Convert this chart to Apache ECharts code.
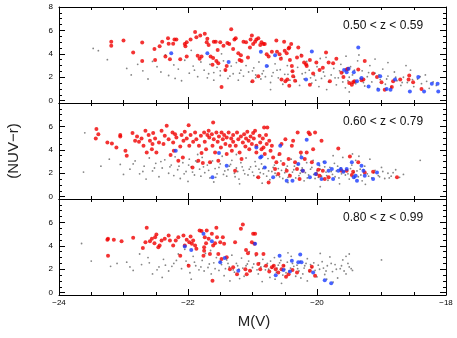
<!DOCTYPE html>
<html>
<head>
<meta charset="utf-8">
<script src="https://cdn.jsdelivr.net/npm/echarts@6.0.0/dist/echarts.min.js"></script>
<style>
html, body { margin: 0; padding: 0; background: #fff; }
#chart { width: 457px; height: 338px; }
</style>
</head>
<body>
<div id="chart"></div>
<script>
// axis ranges / ticks
const X_MIN = -24, X_MAX = -18;
const Y_MIN = -0.2, Y_MAX = 8;
const yMajor = [0, 2, 4, 6, 8];
const yMinor = [0.5, 1, 1.5, 2.5, 3, 3.5, 4.5, 5, 5.5, 6.5, 7, 7.5];
const zLabels = ['0.50 < z < 0.59', '0.60 < z < 0.79', '0.80 < z < 0.99'];

// panel 1 : 0.50 < z < 0.59
const red1 = [[-23.19,5.04],[-23.19,4.70],[-23.0,5.13],[-22.85,4.12],[-22.71,4.96],[-22.71,3.39],[-22.52,4.41],[-22.51,3.48],[-22.44,4.64],[-22.40,5.04],[-22.35,3.77],[-22.31,5.33],[-22.30,4.87],[-22.28,3.54],[-22.23,4.87],[-22.21,5.22],[-22.18,5.22],[-22.12,3.54],[-22.05,4.84],[-22.04,4.64],[-22.02,4.99],[-21.96,5.22],[-22.02,3.77],[-21.89,5.86],[-21.87,5.42],[-21.81,5.57],[-21.85,3.83],[-21.82,3.59],[-21.79,3.77],[-21.74,5.71],[-21.71,4.99],[-21.70,5.28],[-21.68,4.75],[-21.65,3.77],[-21.60,5.04],[-21.57,5.04],[-21.62,3.07],[-21.56,3.39],[-21.54,4.32],[-21.53,3.19],[-21.61,3.65],[-21.50,4.99],[-21.48,1.16],[-21.45,4.70],[-21.42,2.61],[-21.40,2.96],[-21.39,4.93],[-21.36,4.84],[-21.33,6.09],[-21.28,5.22],[-21.26,5.33],[-21.30,4.41],[-21.22,4.06],[-21.20,3.48],[-21.18,3.88],[-21.17,3.39],[-21.14,5.04],[-21.10,4.99],[-21.07,3.68],[-21.04,4.55],[-21.03,5.22],[-21.01,5.57],[-20.99,4.84],[-20.96,5.04],[-20.94,5.22],[-20.91,5.33],[-20.88,4.75],[-20.86,4.99],[-20.83,4.84],[-20.81,4.84],[-20.91,2.09],[-21.00,1.65],[-20.78,3.97],[-20.75,3.77],[-20.70,4.17],[-20.63,5.13],[-20.62,4.17],[-20.58,3.97],[-20.56,3.59],[-20.55,1.80],[-20.51,5.04],[-20.50,4.26],[-20.47,4.06],[-20.44,4.46],[-20.43,4.55],[-20.40,4.84],[-20.42,3.48],[-20.39,2.96],[-20.38,2.52],[-20.49,1.65],[-20.46,1.80],[-20.43,1.28],[-20.37,2.09],[-20.34,1.71],[-20.31,3.68],[-20.29,4.55],[-20.24,3.83],[-20.20,3.25],[-20.17,3.10],[-20.16,2.96],[-20.11,3.48],[-20.11,1.36],[-20.06,2.32],[-20.01,3.25],[-19.96,2.61],[-19.91,2.81],[-19.86,4.12],[-19.82,3.25],[-19.80,1.65],[-19.75,3.19],[-19.70,3.59],[-19.62,2.38],[-19.59,2.03],[-19.54,2.67],[-19.52,2.72],[-19.50,1.51],[-19.46,1.36],[-19.44,1.57],[-19.42,1.65],[-19.36,2.67],[-19.31,1.74],[-19.28,1.80],[-19.26,3.39],[-19.13,2.32],[-19.07,2.03],[-19.00,1.57],[-18.95,0.93],[-18.84,1.16],[-18.82,1.65],[-18.57,2.14],[-18.58,1.80],[-18.51,1.57],[-18.38,0.99],[-18.71,1.80]];
const blue1 = [[-22.26,4.06],[-21.70,4.06],[-21.37,3.30],[-20.87,4.17],[-20.78,2.96],[-20.65,3.88],[-20.17,1.80],[-20.08,4.20],[-19.58,2.61],[-19.54,2.43],[-19.51,2.72],[-19.43,2.43],[-19.36,4.55],[-19.38,1.65],[-19.31,1.94],[-19.20,1.22],[-19.05,0.93],[-18.92,0.99],[-18.86,0.93],[-18.79,1.80],[-18.56,0.78],[-18.43,2.03],[-18.34,0.78],[-18.22,1.45],[-18.13,1.45],[-18.12,0.78],[-19.02,2.09]];
const dots1 = [[-23.47,4.46],[-23.39,4.27],[-23.25,3.5],[-22.95,2.75],[-22.88,2.2],[-22.78,3.1],[-22.7,2.55],[-22.62,1.85],[-22.55,3.35],[-22.48,2.9],[-22.42,2.45],[-22.35,3.9],[-22.3,2.15],[-22.22,3.05],[-22.15,2.7],[-22.1,1.7],[-22.05,3.45],[-21.98,2.35],[-21.92,2.95],[-21.85,2.05],[-21.8,3.3],[-21.75,2.6],[-21.7,1.95],[-21.66,3.1],[-21.6,2.4],[-21.55,2.85],[-21.5,2.15],[-21.45,3.4],[-21.42,2.55],[-21.38,1.9],[-21.33,2.95],[-21.3,2.3],[-21.25,3.25],[-21.22,1.75],[-21.18,2.6],[-21.14,2.1],[-21.1,3.0],[-21.06,2.45],[-21.02,1.6],[-20.98,2.8],[-20.95,2.2],[-20.9,3.3],[-20.87,1.85],[-20.83,2.55],[-20.8,2.05],[-20.76,2.95],[-20.72,1.55],[-20.68,2.4],[-20.65,3.15],[-20.6,1.95],[-20.57,2.65],[-20.53,1.4],[-20.5,2.25],[-20.46,3.0],[-20.42,1.75],[-20.38,2.5],[-20.35,2.0],[-20.3,2.85],[-20.27,1.3],[-20.23,2.3],[-20.2,1.85],[-20.16,3.35],[-20.12,2.6],[-20.08,1.5],[-20.04,2.15],[-20.0,2.9],[-19.97,1.2],[-19.93,1.9],[-19.9,2.45],[-19.86,3.7],[-19.82,1.6],[-19.78,2.2],[-19.74,2.75],[-19.7,1.35],[-19.67,1.95],[-19.63,3.1],[-19.6,2.4],[-19.56,1.1],[-19.52,1.7],[-19.48,2.9],[-19.45,2.2],[-19.4,1.45],[-19.37,3.4],[-19.33,1.9],[-19.3,2.55],[-19.26,1.25],[-19.22,2.05],[-19.18,3.0],[-19.15,1.6],[-19.1,2.35],[-19.06,1.05],[-19.02,1.8],[-18.98,2.7],[-18.94,1.4],[-18.9,2.1],[-18.85,1.15],[-18.8,2.45],[-18.76,1.7],[-18.7,1.3],[-18.66,2.0],[-18.6,1.55],[-18.55,2.6],[-18.5,1.2],[-18.44,1.85],[-18.38,1.45],[-18.32,2.2],[-18.26,1.05],[-18.2,1.6],[-18.15,1.3],[-19.95,3.6],[-19.35,3.9],[-19.55,3.8],[-18.9,3.25],[-18.62,3.0],[-20.55,3.7],[-21.95,4.3],[-21.48,4.0],[-20.72,0.95],[-19.5,0.75],[-19.85,0.95],[-21.6,1.75],[-22.2,1.9],[-20.25,3.95],[-19.1,3.55],
  [-21.2,2.35],[-21.0,2.55],[-20.85,2.3],[-20.7,2.1],[-20.62,2.6],[-20.45,2.25],[-20.32,1.65],[-20.18,2.4],[-20.02,1.75],[-19.88,2.1],[-19.72,1.95],[-19.65,2.55],[-19.5,2.0],[-19.42,2.6],[-19.28,1.55],[-19.2,2.4],[-19.04,2.2],[-18.92,1.85],[-18.78,2.0],[-18.68,1.55],[-18.52,1.8],[-18.4,2.05],[-18.3,1.65],[-21.9,2.6],[-21.68,2.3],[-21.5,2.55],[-21.35,2.1],[-20.95,1.95],[-20.1,1.95],[-19.6,1.6]];

// panel 2 : 0.60 < z < 0.79
const red2 = [[-23.42,5.77],[-23.39,5.34],[-23.43,4.97],[-23.25,4.63],[-23.18,4.55],[-23.11,4.20],[-23.05,5.26],[-23.05,5.14],[-22.97,3.92],[-22.95,3.49],[-22.86,5.43],[-22.82,4.77],[-22.79,5.14],[-22.76,4.69],[-22.72,4.97],[-22.69,4.35],[-22.66,5.63],[-22.64,3.78],[-22.61,5.26],[-22.59,4.77],[-22.56,4.06],[-22.55,4.49],[-22.54,5.43],[-22.51,4.97],[-22.49,3.78],[-22.45,4.63],[-22.41,5.63],[-22.38,4.49],[-22.36,5.20],[-22.33,6.05],[-22.30,4.91],[-22.27,3.55],[-22.24,5.48],[-22.23,4.63],[-22.22,3.92],[-22.20,5.34],[-22.18,5.06],[-22.15,3.07],[-22.12,4.29],[-22.10,5.26],[-22.08,3.35],[-22.07,4.77],[-22.05,5.54],[-22.02,4.97],[-21.99,6.11],[-21.98,4.35],[-21.96,5.26],[-21.93,2.50],[-21.92,4.69],[-21.89,5.48],[-21.87,4.91],[-21.84,3.07],[-21.83,4.35],[-21.80,5.20],[-21.79,3.72],[-21.77,2.87],[-21.75,5.48],[-21.74,4.69],[-21.72,4.06],[-21.70,5.26],[-21.68,5.63],[-21.67,5.06],[-21.66,2.93],[-21.63,5.34],[-21.62,4.35],[-21.61,6.34],[-21.60,4.91],[-21.58,3.78],[-21.56,5.48],[-21.54,4.69],[-21.53,3.07],[-21.52,5.14],[-21.49,4.20],[-21.48,5.48],[-21.46,4.91],[-21.44,5.26],[-21.42,4.49],[-21.40,3.64],[-21.40,5.06],[-21.37,5.48],[-21.35,4.35],[-21.33,4.97],[-21.32,3.92],[-21.30,5.26],[-21.30,4.69],[-21.27,2.22],[-21.26,4.35],[-21.24,5.48],[-21.22,4.91],[-21.20,3.78],[-21.18,5.14],[-21.17,3.21],[-21.15,4.63],[-21.13,5.34],[-21.11,4.29],[-21.10,4.97],[-21.08,5.54],[-21.06,4.77],[-21.05,4.06],[-21.03,5.14],[-21.01,4.49],[-20.99,5.43],[-20.98,4.97],[-20.96,5.63],[-20.94,4.35],[-20.94,3.78],[-20.91,1.65],[-20.89,5.20],[-20.88,4.63],[-20.86,4.06],[-20.84,4.97],[-20.83,4.20],[-20.82,5.91],[-20.81,3.64],[-20.79,5.26],[-20.78,4.49],[-20.77,5.91],[-20.75,1.22],[-20.74,4.77],[-20.72,3.92],[-20.70,4.35],[-20.68,3.35],[-20.65,2.36],[-20.63,2.93],[-20.60,1.93],[-20.58,3.64],[-20.55,4.49],[-20.52,2.78],[-20.49,4.91],[-20.47,2.22],[-20.44,3.21],[-20.42,1.79],[-20.39,4.35],[-20.37,4.77],[-20.34,2.93],[-20.31,2.36],[-20.30,5.48],[-20.27,1.51],[-20.25,3.78],[-20.22,2.22],[-20.19,3.21],[-20.16,3.78],[-20.13,5.48],[-20.11,5.34],[-20.08,2.93],[-20.06,4.06],[-20.03,5.48],[-20.01,1.93],[-19.98,2.30],[-19.96,1.79],[-19.93,4.77],[-19.91,2.22],[-19.88,1.51],[-19.82,1.65],[-19.67,4.12],[-19.62,2.22],[-19.49,3.44],[-19.46,1.85],[-19.36,2.93],[-19.44,2.13],[-18.76,1.65],[-19.26,2.07],[-19.13,2.13],[-19.54,2.22]];
const blue2 = [[-22.19,3.92],[-21.62,1.65],[-21.52,3.72],[-21.40,2.64],[-20.94,4.20],[-20.88,3.35],[-20.86,3.44],[-20.81,2.50],[-20.68,1.65],[-20.57,4.35],[-20.47,1.36],[-20.38,1.36],[-20.29,2.78],[-20.24,3.35],[-20.22,2.22],[-20.16,4.86],[-20.11,1.65],[-20.02,1.93],[-19.98,2.78],[-19.93,1.51],[-19.88,2.93],[-19.82,2.22],[-19.77,2.36],[-19.67,2.22],[-19.63,2.36],[-19.59,2.13],[-19.54,2.36],[-19.46,2.93],[-19.43,1.65],[-19.40,1.79],[-19.38,1.36],[-19.31,2.64],[-19.28,2.22],[-19.26,1.79],[-19.13,1.51],[-19.07,2.07],[-19.75,1.51]];
const dots2 = [[-23.6,5.45],[-23.22,3.2],[-23.62,2.1],[-23.05,2.75],[-22.9,2.35],[-22.82,3.05],[-22.75,1.95],[-22.68,2.6],[-22.6,3.3],[-22.55,2.2],[-22.5,2.85],[-22.45,1.7],[-22.4,2.45],[-22.36,3.15],[-22.3,2.0],[-22.26,2.7],[-22.2,3.4],[-22.16,2.3],[-22.12,1.55],[-22.08,2.9],[-22.03,2.15],[-21.98,3.2],[-21.95,2.55],[-21.9,1.85],[-21.86,2.95],[-21.82,2.35],[-21.78,3.35],[-21.74,2.05],[-21.7,2.7],[-21.66,1.6],[-21.62,3.05],[-21.58,2.4],[-21.55,1.95],[-21.5,2.8],[-21.47,3.45],[-21.43,2.2],[-21.4,1.75],[-21.36,2.6],[-21.32,3.1],[-21.28,2.0],[-21.25,2.45],[-21.21,1.5],[-21.18,2.9],[-21.14,2.25],[-21.1,3.3],[-21.07,1.85],[-21.03,2.55],[-21.0,2.1],[-20.96,3.0],[-20.93,1.65],[-20.9,2.35],[-20.86,2.8],[-20.83,1.95],[-20.8,2.5],[-20.76,3.25],[-20.73,1.45],[-20.7,2.15],[-20.66,2.7],[-20.63,1.8],[-20.6,2.4],[-20.56,3.05],[-20.53,1.55],[-20.5,2.05],[-20.46,2.6],[-20.43,1.9],[-20.4,3.2],[-20.36,2.3],[-20.33,1.6],[-20.3,2.75],[-20.26,2.0],[-20.23,2.45],[-20.2,1.35],[-20.16,2.9],[-20.13,1.85],[-20.1,2.35],[-20.06,3.1],[-20.03,1.55],[-20.0,2.2],[-19.96,2.65],[-19.93,1.75],[-19.9,3.0],[-19.86,2.1],[-19.83,1.4],[-19.8,2.5],[-19.76,1.9],[-19.73,2.85],[-19.7,2.2],[-19.66,1.6],[-19.63,2.45],[-19.6,3.35],[-19.56,1.85],[-19.53,2.3],[-19.5,1.5],[-19.46,2.7],[-19.43,2.05],[-19.4,3.1],[-19.36,1.7],[-19.33,2.35],[-19.3,1.35],[-19.26,2.6],[-19.22,1.95],[-19.18,3.2],[-19.15,1.6],[-19.1,2.25],[-19.05,1.8],[-19.0,2.5],[-18.95,1.55],[-18.9,2.0],[-18.85,1.75],[-18.78,2.3],[-18.72,1.65],[-18.66,1.9],[-18.4,3.1],[-22.65,1.5],[-22.0,1.3],[-21.6,1.25],[-21.2,1.1],[-20.85,1.15],[-20.45,1.2],[-19.95,0.85],[-19.65,1.1],[-19.25,1.05],[-20.25,3.55],[-19.75,3.5],[-19.45,3.65],[-21.85,3.6],[-21.25,3.6],[-20.6,3.55],[-19.35,3.45],[-23.35,2.6],[-23.0,1.9],
  [-22.28,2.55],[-22.22,1.8],[-22.14,2.6],[-22.06,1.95],[-21.99,2.7],[-21.93,2.1],[-21.88,3.05],[-21.8,1.75],[-21.76,2.55],[-21.68,2.25],[-21.64,2.9],[-21.57,1.65],[-21.52,2.5],[-21.45,1.9],[-21.38,2.3],[-21.34,2.75],[-21.27,1.7],[-21.23,2.15],[-21.16,2.55],[-21.12,1.95],[-21.05,2.35],[-20.98,1.8],[-20.95,2.6],[-20.88,2.05],[-20.84,2.4],[-20.78,1.75],[-20.75,2.2],[-20.68,2.5],[-20.65,2.0],[-20.58,1.7],[-20.55,2.25],[-20.48,2.4],[-20.45,1.65],[-20.38,2.1],[-20.35,2.6],[-20.28,1.8],[-20.25,2.25],[-20.18,2.05],[-20.15,1.6],[-20.08,2.5],[-20.05,1.9],[-19.98,1.65],[-19.95,2.35],[-19.88,2.55],[-19.85,1.8],[-19.78,2.15],[-19.72,1.7],[-19.68,2.6],[-19.62,1.95],[-19.58,2.15],[-19.52,1.95],[-19.48,2.4],[-19.42,1.6],[-19.38,2.2],[-19.32,1.85],[-19.28,2.3],[-19.2,1.75],[-19.12,2.05],[-19.03,1.7],[-18.98,2.15],[-18.88,1.6],[-18.82,2.05],[-22.85,2.8],[-22.7,2.15],[-22.52,2.45],[-22.42,3.0]];

// panel 3 : 0.80 < z < 0.99
const red3 = [[-23.25,4.51],[-23.24,4.60],[-23.24,3.16],[-23.15,4.51],[-23.03,4.40],[-22.85,4.68],[-22.70,3.82],[-22.66,4.31],[-22.64,5.55],[-22.59,4.40],[-22.56,4.60],[-22.52,4.22],[-22.51,4.74],[-22.49,4.97],[-22.46,3.88],[-22.44,4.02],[-22.41,4.45],[-22.36,4.60],[-22.30,4.89],[-22.28,4.45],[-22.23,4.02],[-22.19,4.45],[-22.15,4.74],[-22.12,3.16],[-22.07,4.89],[-22.05,4.02],[-22.02,4.51],[-21.99,2.30],[-21.98,4.31],[-21.96,4.80],[-21.94,4.17],[-21.92,4.45],[-21.89,4.02],[-21.87,3.74],[-21.82,5.32],[-21.79,5.26],[-21.76,3.16],[-21.75,3.59],[-21.75,3.88],[-21.74,4.74],[-21.72,4.22],[-21.71,5.32],[-21.68,4.60],[-21.66,3.30],[-21.63,5.03],[-21.62,1.01],[-21.61,4.02],[-21.58,4.22],[-21.56,5.55],[-21.55,4.74],[-21.53,3.30],[-21.50,4.31],[-21.48,2.87],[-21.46,4.74],[-21.44,4.17],[-21.40,3.02],[-21.35,2.01],[-21.30,2.16],[-21.27,4.31],[-21.24,1.58],[-21.18,5.46],[-21.15,5.83],[-21.11,2.01],[-21.10,3.65],[-21.09,1.58],[-21.07,3.36],[-21.04,1.87],[-21.01,4.31],[-20.99,5.03],[-20.96,5.03],[-20.97,4.17],[-20.94,3.30],[-20.91,2.44],[-20.88,2.01],[-20.83,3.30],[-20.79,2.30],[-20.74,1.81],[-20.70,2.16],[-20.67,2.30],[-20.64,2.01],[-20.60,1.72],[-20.55,2.01],[-20.52,2.30],[-20.48,1.35],[-20.44,1.58],[-20.38,1.93],[-20.31,1.72],[-20.08,2.21],[-20.03,1.44],[-20.11,1.87]];
const blue3 = [[-22.05,3.94],[-21.95,3.65],[-21.76,5.03],[-21.63,4.40],[-21.50,2.59],[-21.43,2.96],[-21.22,1.87],[-20.96,4.17],[-20.64,1.49],[-20.58,3.16],[-20.52,1.93],[-20.42,1.81],[-20.39,2.73],[-20.26,3.25],[-20.29,2.59],[-20.24,2.59],[-20.06,1.72],[-19.88,1.06],[-19.78,0.80]];
const dots3 = [[-23.65,4.2],[-23.5,2.7],[-23.2,2.25],[-22.95,2.6],[-22.85,1.9],[-22.72,2.4],[-22.62,3.0],[-22.55,1.6],[-22.45,2.2],[-22.38,2.85],[-22.3,1.85],[-22.22,2.5],[-22.15,3.3],[-22.1,2.05],[-22.03,2.7],[-21.97,1.7],[-21.92,3.1],[-21.88,2.3],[-21.83,1.95],[-21.78,2.75],[-21.73,3.35],[-21.69,2.15],[-21.64,1.6],[-21.6,2.55],[-21.56,3.0],[-21.52,1.9],[-21.48,2.4],[-21.44,1.45],[-21.4,2.8],[-21.36,2.2],[-21.32,3.2],[-21.28,1.75],[-21.25,2.5],[-21.21,2.0],[-21.17,2.95],[-21.13,1.4],[-21.1,2.3],[-21.06,2.7],[-21.02,1.85],[-20.98,2.45],[-20.95,3.15],[-20.91,1.6],[-20.87,2.2],[-20.84,2.85],[-20.8,1.95],[-20.77,2.5],[-20.73,1.3],[-20.7,2.1],[-20.66,3.0],[-20.63,1.75],[-20.6,2.35],[-20.56,2.75],[-20.53,1.5],[-20.5,2.0],[-20.46,2.6],[-20.43,1.85],[-20.4,3.1],[-20.36,2.25],[-20.33,1.4],[-20.3,2.05],[-20.26,2.7],[-20.22,1.6],[-20.19,2.3],[-20.15,2.9],[-20.12,1.8],[-20.08,2.15],[-20.05,2.55],[-20.0,1.35],[-19.96,2.0],[-19.92,2.65],[-19.88,1.55],[-19.84,2.3],[-19.8,3.05],[-19.76,1.8],[-19.72,2.4],[-19.68,1.25],[-19.64,2.05],[-19.6,2.8],[-19.55,1.6],[-19.5,2.2],[-19.55,3.1],[-19.5,3.3],[-19.45,1.9],[-19.0,2.8],[-22.4,1.3],[-21.95,1.15],[-21.35,1.0],[-20.85,0.95],[-20.55,0.8],[-20.15,1.0],[-19.75,0.9],[-21.65,3.6],[-21.05,3.5],[-20.45,3.4],[-19.95,3.35],[-22.75,3.3],[-22.05,3.7],[-21.2,1.2],[-20.65,1.15],[-20.25,1.25],[-19.85,1.15],
  [-22.25,2.25],[-22.18,2.75],[-22.0,2.4],[-21.9,2.6],[-21.8,2.2],[-21.75,1.85],[-21.67,2.45],[-21.58,2.05],[-21.5,2.65],[-21.42,2.05],[-21.38,2.5],[-21.3,1.95],[-21.23,2.3],[-21.15,2.1],[-21.08,2.45],[-21.0,2.15],[-20.93,1.95],[-20.89,2.55],[-20.82,2.25],[-20.75,2.0],[-20.72,2.7],[-20.68,2.3],[-20.62,2.1],[-20.58,2.55],[-20.51,2.3],[-20.48,1.7],[-20.41,2.1],[-20.38,2.5],[-20.31,2.35],[-20.28,1.85],[-20.2,2.1],[-20.17,2.5],[-20.1,2.4],[-20.03,1.9],[-19.98,2.35],[-19.9,2.1],[-19.86,1.85],[-19.78,2.5],[-19.7,2.0],[-19.62,2.3],[-19.58,1.85],[-19.52,2.5],[-19.47,2.05],[-22.6,2.55],[-22.48,1.95],[-22.35,2.35],[-22.9,2.2],[-23.1,2.5]];

const FONT = "'Liberation Sans', Arial, sans-serif";
const panels = [
  { dots: dots1, red: red1, blue: blue1 },
  { dots: dots2, red: red2, blue: blue2 },
  { dots: dots3, red: red3, blue: blue3 },
];
const tops = [7, 103, 199];
const PANEL_H = 96;
const minus = v => String(v).replace('-', '\u2212');

const grid = [], xAxis = [], yAxis = [], series = [], graphic = [];

panels.forEach((p, i) => {
  grid.push({ left: 59, width: 387, top: tops[i], height: PANEL_H });
  const last = i === panels.length - 1;

  ['bottom', 'top'].forEach(pos => {
    xAxis.push({
      gridIndex: i, type: 'value', position: pos,
      min: X_MIN, max: X_MAX, interval: 2,
      axisLine: { onZero: false, lineStyle: { color: '#000', width: 1 } },
      axisTick: { inside: true, length: 6, lineStyle: { color: '#000' } },
      minorTick: { show: true, splitNumber: 4, length: 3, lineStyle: { color: '#000' } },
      axisLabel: { show: last && pos === 'bottom', color: '#000', fontSize: 8, fontFamily: FONT, margin: 4, formatter: minus },
      splitLine: { show: false },
    });
  });

  ['left', 'right'].forEach(pos => {
    // major ticks + frame
    yAxis.push({
      gridIndex: i, type: 'value', position: pos, min: Y_MIN, max: Y_MAX,
      axisLine: { onZero: false, lineStyle: { color: '#000', width: 1 } },
      axisTick: { inside: true, length: 6, customValues: yMajor, lineStyle: { color: '#000' } },
      axisLabel: {
        show: pos === 'left', color: '#000', fontSize: 8, fontFamily: FONT, margin: 6,
        customValues: i === 0 ? yMajor : yMajor.slice(0, 4),
      },
      splitLine: { show: false },
    });
    // minor ticks
    yAxis.push({
      gridIndex: i, type: 'value', position: pos, min: Y_MIN, max: Y_MAX,
      axisLine: { show: false },
      axisTick: { inside: true, length: 3, customValues: yMinor, lineStyle: { color: '#000' } },
      axisLabel: { show: false },
      splitLine: { show: false },
    });
  });

  const xi = i * 2, yi = i * 4;
  series.push({
    type: 'scatter', xAxisIndex: xi, yAxisIndex: yi, data: p.dots,
    symbolSize: 1.8, itemStyle: { color: '#333', opacity: 0.6 }, silent: true,
  });
  series.push({
    type: 'scatter', xAxisIndex: xi, yAxisIndex: yi, data: p.red,
    symbolSize: 4, itemStyle: { color: '#f00000' }, silent: true,
  });
  series.push({
    type: 'scatter', xAxisIndex: xi, yAxisIndex: yi, data: p.blue,
    symbolSize: 4, itemStyle: { color: '#1a3cff' }, silent: true,
  });

  graphic.push({
    type: 'text', left: 343, top: tops[i] + 13,
    style: { text: zLabels[i], fill: '#111', font: '12px ' + FONT },
  });
});

graphic.push({
  type: 'text', x: 14, y: 151, rotation: Math.PI / 2,
  style: { text: '(NUV\u2212r)', fill: '#222', font: '15px ' + FONT, align: 'center', verticalAlign: 'middle' },
});
graphic.push({
  type: 'text', x: 254, y: 322,
  style: { text: 'M(V)', fill: '#222', font: '15px ' + FONT, align: 'center', verticalAlign: 'middle' },
});

const chart = echarts.init(document.getElementById('chart'), null, { renderer: 'canvas' });
chart.setOption({
  animation: false,
  backgroundColor: '#fff',
  grid, xAxis, yAxis, series, graphic,
});
</script>
</body>
</html>
